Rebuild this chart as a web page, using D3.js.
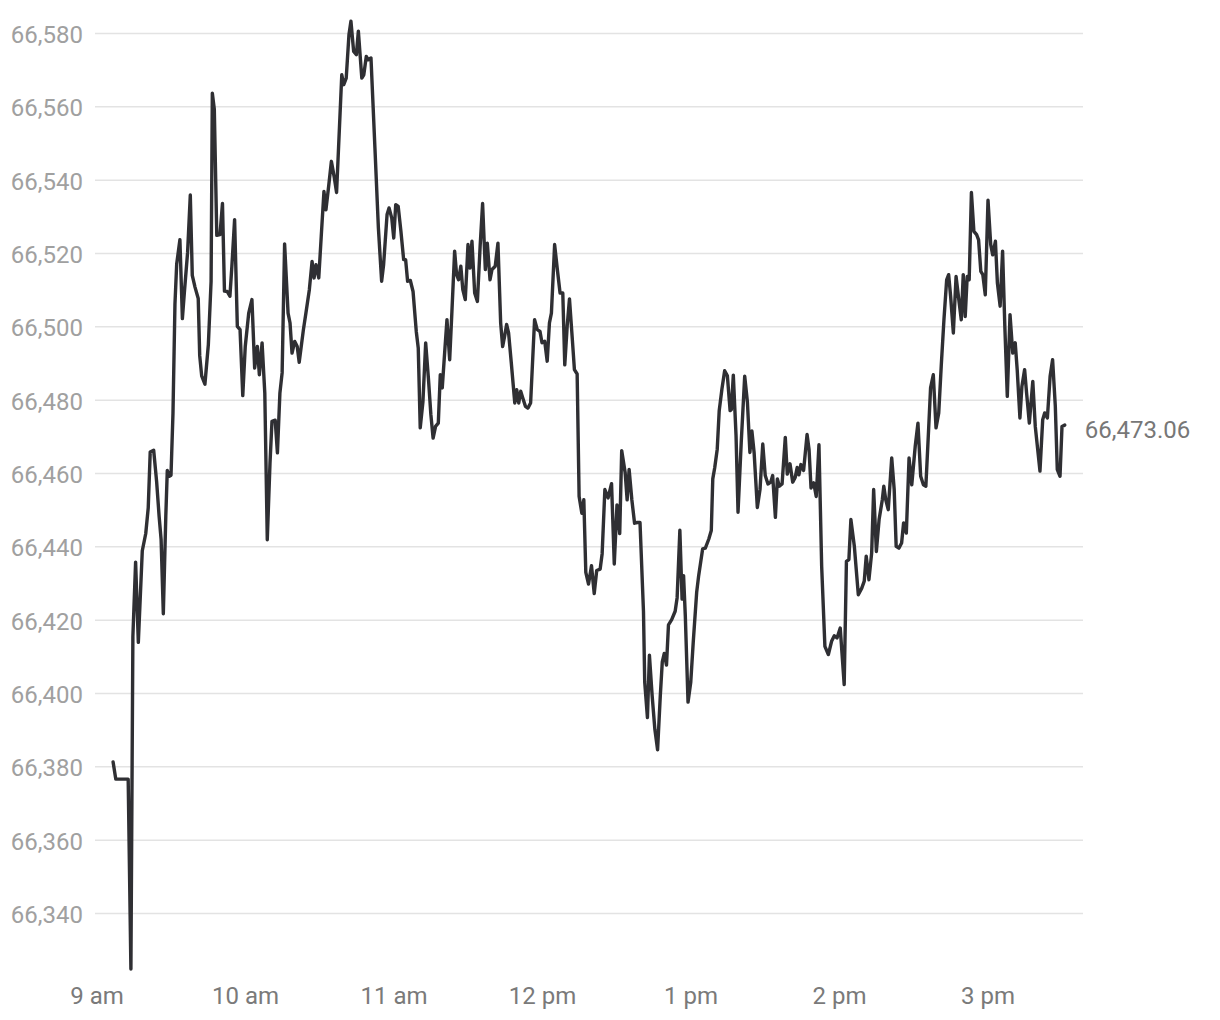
<!DOCTYPE html>
<html><head><meta charset="utf-8">
<script src="https://cdn.jsdelivr.net/npm/d3@7"></script>
<style>
body{margin:0;background:#fff}
svg{display:block;font-family:Roboto,"Noto Sans",sans-serif}
</style>
</head><body>
<svg id="chart" width="1220" height="1020"></svg>
<script>
// minutes after 9:00 am
const minutes = [6.7,7.8,12.8,13.9,14.7,15.8,16.9,18.5,19.9,20.9,21.7,23.1,24.3,25.3,26.1,27.0,28.0,28.6,29.4,30.1,30.9,31.7,32.4,33.7,34.7,35.5,36.8,37.9,38.7,39.8,41.1,41.7,42.5,43.8,45.2,46.3,46.8,47.6,48.6,49.9,50.9,51.7,52.8,53.9,54.7,55.8,56.9,58.0,59.1,60.1,61.5,62.8,63.9,65.0,65.8,66.9,68.0,69.0,70.1,70.9,72.2,73.1,74.1,75.0,76.0,77.4,78.2,79.0,80.1,81.1,81.9,83.6,84.6,86.0,87.1,87.9,88.7,89.8,90.8,91.9,92.7,93.8,94.9,96.0,97.0,99.1,99.9,100.9,102.0,102.8,103.9,105.0,105.8,107.2,108.0,109.0,109.8,110.9,112.5,113.9,115.2,116.0,117.4,118.2,119.3,120.1,120.9,121.9,123.0,124.1,124.9,125.7,126.8,127.9,129.2,130.0,130.8,131.9,133.0,134.1,135.1,136.0,137.0,138.1,138.9,139.7,140.8,141.6,142.7,143.6,144.7,145.5,146.3,147.2,148.0,149.0,150.1,150.9,151.7,152.8,153.9,155.0,156.0,157.1,157.9,159.0,159.8,161.1,162.2,163.3,164.1,164.9,165.7,166.5,167.6,169.0,169.8,170.6,171.4,172.2,173.3,174.3,175.4,177.0,178.1,179.2,180.0,181.1,182.1,183.0,183.8,185.1,186.2,187.3,188.4,189.2,190.2,191.1,192.3,193.1,194.2,195.0,196.1,196.9,197.7,198.8,200.0,201.1,202.1,203.5,204.3,205.4,206.7,208.1,209.2,210.3,211.4,212.2,213.6,214.4,215.2,216.3,217.4,218.5,219.6,221.0,221.5,222.6,223.4,224.5,225.6,226.7,227.8,228.6,229.4,230.3,231.1,232.4,233.8,234.6,235.7,236.6,237.2,237.9,239.0,240.1,241.1,242.5,243.3,244.9,246.0,247.4,248.4,249.0,249.8,250.8,251.6,252.7,253.8,254.9,256.0,256.5,257.3,258.4,259.2,260.5,261.9,263.0,264.0,264.8,265.7,267.0,268.1,269.2,270.2,271.3,272.4,273.2,274.3,275.1,275.9,277.0,278.3,279.1,280.2,281.3,282.3,283.1,283.8,284.6,285.7,287.1,287.9,288.7,289.8,290.8,291.9,293.0,294.3,295.7,297.0,298.1,299.2,300.5,302.1,303.0,304.0,304.8,306.2,307.8,309.2,310.2,311.0,312.1,313.2,314.0,315.1,316.2,317.5,318.1,318.9,319.9,321.3,322.3,323.1,324.2,325.3,326.1,327.2,328.3,329.4,330.8,331.9,333.0,334.1,335.1,336.2,337.0,338.1,339.2,340.3,341.3,342.4,343.5,344.3,345.1,346.2,347.3,348.4,349.4,350.2,351.0,351.8,352.6,353.5,354.5,355.6,356.4,357.3,358.1,359.1,360.2,361.3,362.1,363.2,364.0,365.1,366.1,367.0,368.0,369.1,370.2,371.2,372.0,373.1,373.9,375.0,375.8,376.9,378.3,379.3,381.2,382.3,383.1,384.2,385.3,386.3,387.4,388.2,389.3,390.1,391.2];

const prices = [66381.2,66376.5,66376.5,66324.7,66415.4,66435.7,66413.8,66438.8,66443.5,66450.5,66465.7,66466.2,66457.6,66448.2,66441.9,66421.6,66448.2,66460.7,66459.1,66459.4,66476.3,66506.1,66517,66523.6,66502.1,66509.2,66520.1,66535.8,66513.9,66510.7,66507.6,66492,66486.5,66484.2,66495.1,66512.3,66563.6,66559.2,66524.8,66525,66533.5,66509.6,66509.5,66508.2,66516.4,66529.1,66500,66499.1,66481.1,66494.5,66503.6,66507.3,66488.6,66494.5,66486.8,66495.5,66481.8,66441.8,66462.7,66474.1,66474.4,66465.5,66481.8,66487.3,66522.5,66503.6,66500.9,66492.7,66495.9,66494.5,66490.2,66499.1,66503.6,66510,66517.7,66513.2,66516.8,66513.2,66524.5,66536.8,66531.8,66538.2,66545,66540.9,66536.5,66568.6,66565.9,66567.7,66579.5,66583.2,66575,66574.1,66580.5,66567.7,66568.6,66573.6,66572.7,66573.2,66548.6,66526.8,66512.3,66516.8,66530.5,66532.3,66529.5,66524.1,66533.2,66532.7,66525.9,66518.2,66518.2,66512.3,66512.5,66509.5,66498.6,66494.1,66472.3,66479.5,66495.5,66485.9,66475.9,66469.5,66472.7,66473.6,66486.8,66483.2,66494.1,66501.8,66490.9,66504,66520.5,66514.1,66512.7,66516.4,66510,66507.3,66522.3,66515.9,66523.2,66509.1,66506.8,66521.8,66533.5,66515.5,66522.7,66512.7,66515.5,66516.4,66522.7,66500.9,66494.5,66497.3,66500.5,66498.2,66490,66479.1,66482.7,66479.1,66482.3,66480.5,66478.2,66477.7,66479.1,66501.8,66499.1,66498.6,66495.5,66495.9,66490.5,66500.9,66503.6,66522.3,66515.5,66509.1,66509.1,66489.5,66500.3,66507.5,66496,66488.2,66487,66453.6,66449,66452.7,66432.9,66429.7,66434.7,66427.1,66433.4,66433.8,66438,66455.5,66453.2,66457.1,66435.2,66451.3,66443.5,66466.1,66460.1,66452.7,66461,66452.7,66446.3,66446.5,66446.5,66422.3,66403,66393.3,66410.3,66399.3,66390.1,66384.5,66399.3,66408.5,66410.8,66407.6,66418.6,66420,66422.3,66426,66444.4,66425.6,66432,66421.1,66397.5,66402.9,66413.8,66427.5,66432,66439.3,66439.5,66442,66444.3,66458.4,66461.5,66466.5,66477,66482.9,66487.9,66486.5,66477,66477.3,66486.7,66470.2,66449.3,66468.4,66486.4,66479.3,66465.6,66471.5,66465.6,66450.6,66455.6,66467.9,66459.3,66457,66457.5,66459.3,66447.9,66458.4,66456.4,66457,66469.7,66459.7,66462.5,66457.5,66458.8,66461.5,66459.5,66462.3,66460.7,66470.5,66466.4,66455.9,66457.3,66453.6,66467.7,66434.5,66412.7,66410.5,66414.1,66415.6,66415,66417.7,66402.3,66435.9,66436.4,66447.3,66440,66426.8,66428.6,66430.5,66437.3,66430.9,66438.2,66455.5,66438.6,66447.3,66452.7,66456.4,66452.7,66450,66464.1,66455.5,66440,66439.5,66440.9,66446.4,66443.6,66464.1,66456.8,66467.3,66473.6,66459.1,66456.8,66456.4,66471.8,66483.2,66486.8,66472.3,66476.4,66489.1,66501.8,66512.7,66514.1,66508.2,66498.2,66513.6,66507.3,66501.8,66514.1,66502.7,66513.6,66512.7,66536.5,66525.9,66525,66523.6,66515,66514.1,66508.6,66534.4,66522.3,66519.5,66523.2,66511.8,66505.5,66520.5,66500,66480.9,66503.2,66492.7,66495.5,66488.2,66475,66483.6,66488.2,66481.8,66473.6,66485,66472.7,66460.5,66474.5,66476.4,66475,66486.4,66490.9,66478.2,66460.9,66459.1,66472.7,66473.06];

const yTicks = [66340,66360,66380,66400,66420,66440,66460,66480,66500,66520,66540,66560,66580];
const xTickHours = [9,10,11,12,13,14,15];
const xTickLabels = ["9 am","10 am","11 am","12 pm","1 pm","2 pm","3 pm"];
const lastPrice = 66473.06;

const svg = d3.select("#chart");
const base = new Date(2024, 0, 2, 9, 0, 0);
const toDate = m => new Date(base.getTime() + m * 60000);
const data = minutes.map((m, i) => ({ t: toDate(m), v: prices[i] }));

const plotLeft = 95, plotRight = 1083;
const x = d3.scaleTime()
  .domain([base, toDate(400)])
  .range([96.5, 96.5 + 148.5 * 400 / 60]);
const y = d3.scaleLinear().domain([66340, 66580]).range([913, 33]);

// y axis with gridlines
const yAxis = d3.axisLeft(y)
  .tickValues(yTicks)
  .tickSize(-(plotRight - plotLeft))
  .tickPadding(12)
  .tickFormat(d3.format(","));
const gy = svg.append("g").attr("transform", `translate(${plotLeft},0)`).call(yAxis);
gy.select(".domain").remove();
gy.selectAll(".tick line").attr("stroke", "#e3e3e3").attr("stroke-width", 1.5);
gy.selectAll(".tick text")
  .attr("fill", "#a0a0a0")
  .attr("font-size", 24)
  .attr("font-family", "Roboto, sans-serif")
  .attr("dy", "0.39em");

// x axis labels
const xAxis = d3.axisBottom(x)
  .tickValues(xTickHours.map(h => new Date(2024, 0, 2, h, 0, 0)))
  .tickSize(0)
  .tickPadding(0)
  .tickFormat((d, i) => xTickLabels[i]);
const gx = svg.append("g").attr("transform", "translate(0,987)").call(xAxis);
gx.select(".domain").remove();
gx.selectAll(".tick text")
  .attr("fill", "#7a7a7a")
  .attr("font-size", 24)
  .attr("font-family", "Roboto, sans-serif")
  .attr("dy", "0.72em");

// price line
const line = d3.line().x(d => x(d.t)).y(d => y(d.v));
svg.append("path")
  .datum(data)
  .attr("fill", "none")
  .attr("stroke", "#2f2f33")
  .attr("stroke-width", 3.4)
  .attr("stroke-linejoin", "round")
  .attr("stroke-linecap", "round")
  .attr("d", line);

// last value label
const last = data[data.length - 1];
svg.append("text")
  .attr("x", x(last.t) + 20)
  .attr("y", y(last.v))
  .attr("dy", "0.55em")
  .attr("fill", "#777")
  .attr("font-size", 24)
  .attr("font-family", "Roboto, sans-serif")
  .text(d3.format(",.2f")(lastPrice));
</script>
</body></html>
